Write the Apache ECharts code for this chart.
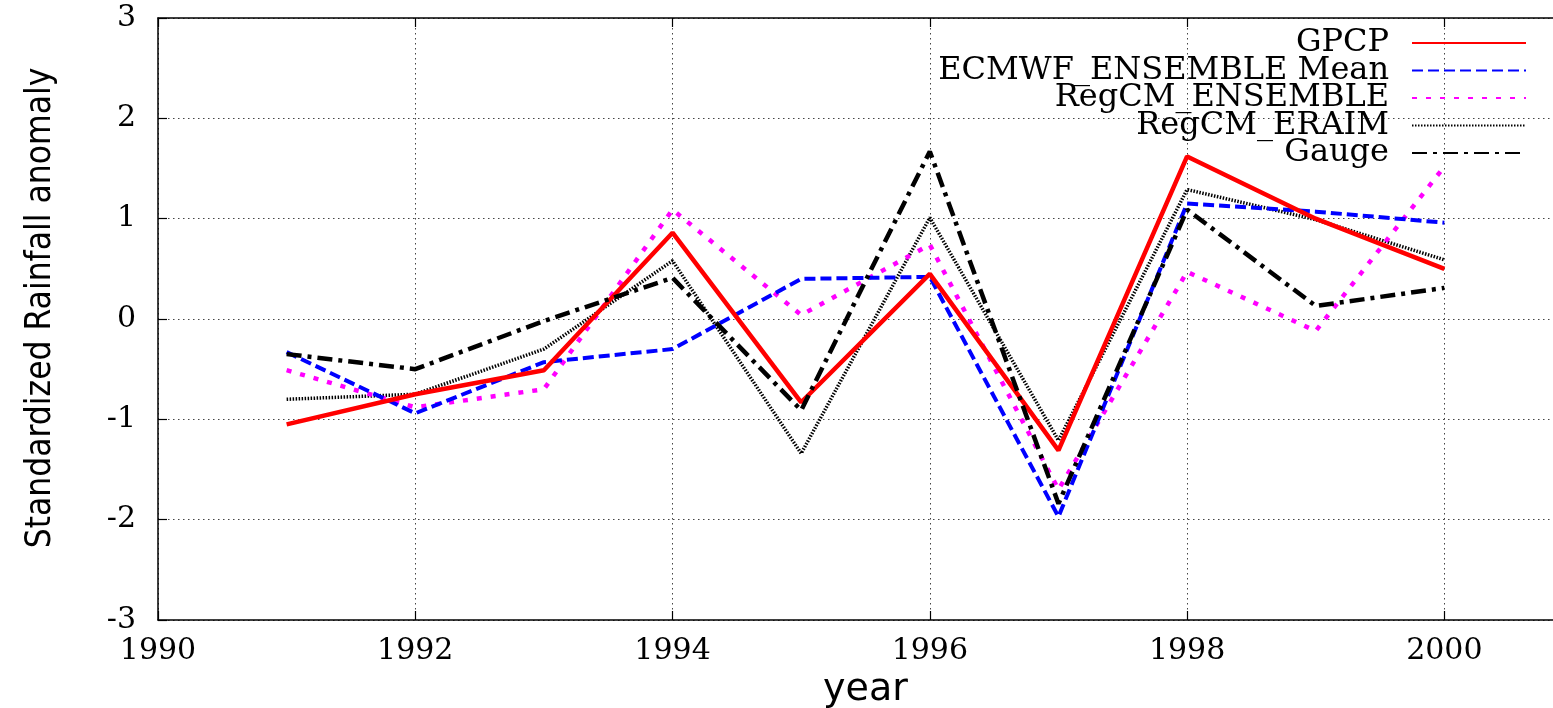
<!DOCTYPE html>
<html>
<head>
<meta charset="utf-8">
<script src="https://cdn.jsdelivr.net/npm/echarts@6/dist/echarts.min.js"></script>
<style>
html,body{margin:0;padding:0;background:#fff;}
#chart{width:1553px;height:708px;}
</style>
</head>
<body>
<div id="chart"></div>
<script>
const years = [1991, 1992, 1993, 1994, 1995, 1996, 1997, 1998, 1999, 2000];
const gpcp = [-1.05, -0.75, -0.51, 0.86, -0.83, 0.45, -1.31, 1.62, 1.00, 0.50];
const ecmwfEnsembleMean = [-0.33, -0.94, -0.43, -0.30, 0.40, 0.42, -1.97, 1.15, 1.07, 0.96];
const regcmEnsemble = [-0.51, -0.88, -0.70, 1.09, 0.04, 0.74, -1.70, 0.47, -0.12, 1.52];
const regcmEraim = [-0.80, -0.75, -0.30, 0.58, -1.34, 1.01, -1.21, 1.29, 0.99, 0.59];
const gauge = [-0.35, -0.50, -0.02, 0.41, -0.91, 1.67, -1.84, 1.09, 0.13, 0.31];
const seriesNames = ['GPCP', 'ECMWF_ENSEMBLE Mean', 'RegCM_ENSEMBLE', 'RegCM_ERAIM', 'Gauge'];
const yTicks = [-3, -2, -1, 0, 1, 2, 3];
const xTicks = [1990, 1992, 1994, 1996, 1998, 2000];

const pair = arr => years.map((y, i) => [y, arr[i]]);
const serifFont = "'DejaVu Serif', 'Liberation Serif', serif";

const chart = echarts.init(document.getElementById('chart'), null, {renderer: 'canvas'});
const gridStyle = {show: true, lineStyle: {color: '#444', width: 1, type: [1.5, 3.5]}};

const option = {
  animation: false,
  backgroundColor: '#fff',
  grid: {left: 158, top: 18, width: 1415, height: 602, containLabel: false, outerBoundsMode: 'none'},
  legend: {
    orient: 'vertical',
    right: 26,
    top: 27,
    padding: 0,
    align: 'right',
    itemWidth: 114,
    itemHeight: 14,
    itemGap: -4.5,
    itemStyle: {opacity: 0},
    textStyle: {fontFamily: serifFont, fontSize: 32, color: '#000', padding: [0, 18, 0, 0]},
    data: seriesNames
  },
  xAxis: [{
    type: 'value',
    min: 1990, max: 2001, interval: 2,
    name: 'year',
    nameLocation: 'middle',
    nameGap: 50,
    nameTextStyle: {fontFamily: "'DejaVu Sans', sans-serif", fontSize: 38, color: '#000'},
    axisLine: {show: true, onZero: false, lineStyle: {color: '#000', width: 1.5}},
    axisTick: {show: true, inside: true, length: 9, lineStyle: {color: '#000', width: 1.2}},
    axisLabel: {
      margin: 16, fontFamily: serifFont, fontSize: 30, color: '#000',
      formatter: v => xTicks.indexOf(v) >= 0 ? String(v) : ''
    },
    splitLine: gridStyle
  }, {
    type: 'value',
    position: 'top',
    min: 1990, max: 2001, interval: 2,
    axisLine: {show: true, onZero: false, lineStyle: {color: '#000', width: 1.5}},
    axisTick: {show: true, inside: true, length: 9, lineStyle: {color: '#000', width: 1.2}},
    axisLabel: {show: false},
    splitLine: {show: false}
  }],
  yAxis: {
    type: 'value',
    min: -3, max: 3, interval: 1,
    name: 'Standardized Rainfall anomaly',
    nameLocation: 'middle',
    nameRotate: 90,
    nameGap: 100,
    nameTextStyle: {fontFamily: "'Liberation Sans Narrow', 'DejaVu Sans Condensed', sans-serif", fontSize: 35, color: '#000', padding: [0, 0, 0, 22]},
    axisLine: {show: true, onZero: false, lineStyle: {color: '#000', width: 1.5}},
    axisTick: {show: true, inside: true, length: 9, lineStyle: {color: '#000', width: 1.2}},
    axisLabel: {
      margin: 22, fontFamily: serifFont, fontSize: 30, color: '#000',
      formatter: v => yTicks.indexOf(v) >= 0 ? String(v) : ''
    },
    splitLine: gridStyle
  },
  series: [
    {name: seriesNames[0], type: 'line', data: pair(gpcp), symbol: 'none', z: 6,
     lineStyle: {color: '#ff0000', width: 4.5, type: 'solid'}, itemStyle: {color: '#ff0000'}},
    {name: seriesNames[1], type: 'line', data: pair(ecmwfEnsembleMean), symbol: 'none', z: 5,
     lineStyle: {color: '#0000ff', width: 4, type: [11, 5]}, itemStyle: {color: '#0000ff'}},
    {name: seriesNames[2], type: 'line', data: pair(regcmEnsemble), symbol: 'none', z: 4,
     lineStyle: {color: '#ff00ff', width: 4.5, type: [5, 9]}, itemStyle: {color: '#ff00ff'}},
    {name: seriesNames[3], type: 'line', data: pair(regcmEraim), symbol: 'none', z: 3,
     lineStyle: {color: '#000000', width: 3.5, type: [1.5, 1.5]}, itemStyle: {color: '#000000'}},
    {name: seriesNames[4], type: 'line', data: pair(gauge), symbol: 'none', z: 7,
     lineStyle: {color: '#000000', width: 4.5, type: [15, 6, 4, 6]}, itemStyle: {color: '#000000'}}
  ]
};
chart.setOption(option);
</script>
</body>
</html>
